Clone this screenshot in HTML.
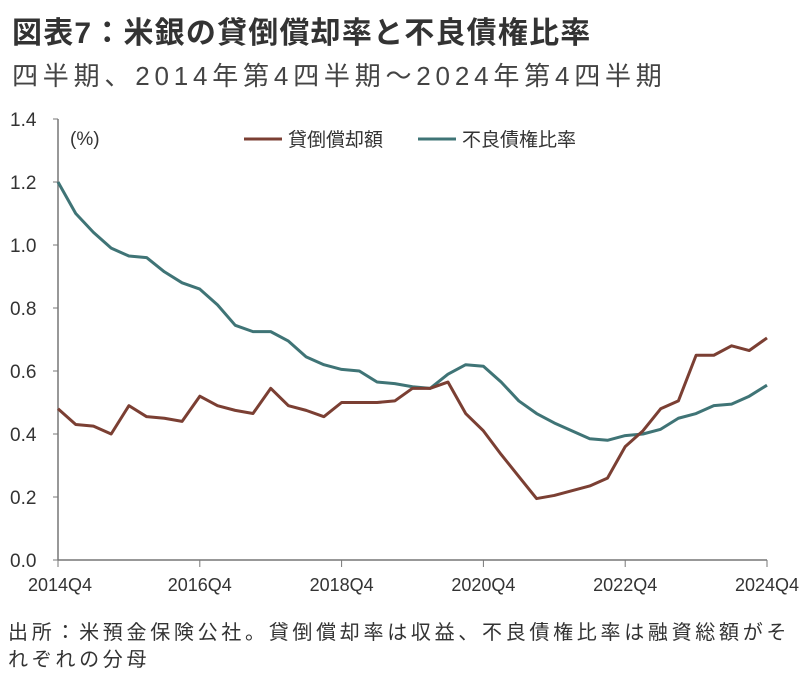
<!DOCTYPE html>
<html><head><meta charset="utf-8"><style>
body{margin:0;background:#fff;width:805px;height:676px;overflow:hidden;font-family:"Liberation Sans","Noto Sans CJK JP",sans-serif;}
.t{position:absolute;white-space:nowrap;}
</style></head><body>
<div class="t" style="left:12px;top:8px;font-size:30px;font-weight:bold;color:#333;letter-spacing:1.2px;">図表7：米銀の貸倒償却率と不良債権比率</div>
<div class="t" style="left:12px;top:56px;font-size:26px;color:#444;letter-spacing:4.8px;">四半期、2014年第4四半期～2024年第4四半期</div>
<svg id="c" width="805" height="676" style="position:absolute;left:0;top:0;"></svg>
<div class="t" style="left:8px;top:620px;font-size:20px;color:#333;line-height:27px;letter-spacing:3.7px;">出所：米預金保険公社。貸倒償却率は収益、不良債権比率は融資総額がそ<br>れぞれの分母</div>
<script>
const labels=["2014Q4","2016Q4","2018Q4","2020Q4","2022Q4","2024Q4"];
const yTicks=[0,0.2,0.4,0.6,0.8,1.0,1.2,1.4];
const chargeOff=[.48,.43,.425,.40,.49,.455,.45,.44,.52,.49,.475,.465,.545,.49,.475,.455,.50,.50,.50,.505,.545,.545,.565,.465,.41,.335,.265,.195,.205,.22,.235,.26,.36,.41,.48,.505,.65,.65,.68,.665,.705];
const npl=[1.20,1.10,1.04,.99,.965,.96,.915,.88,.86,.81,.745,.725,.725,.695,.645,.62,.605,.60,.565,.56,.55,.545,.59,.62,.615,.565,.505,.465,.435,.41,.385,.38,.395,.40,.415,.45,.465,.49,.495,.52,.555];
const svg=document.getElementById('c');const NS='http://www.w3.org/2000/svg';
const x0=58,x1=767,y0=560,y1=119;
const X=i=>x0+(x1-x0)*i/40;const Y=v=>y0-(y0-y1)*v/1.4;
function mk(t,a){const e=document.createElementNS(NS,t);for(const k in a)e.setAttribute(k,a[k]);svg.appendChild(e);return e;}
let e=mk('line',{x1:x0,y1:y1,x2:x0,y2:y0,stroke:'#777','stroke-width':1.5});

e=mk('line',{x1:x0,y1:y0,x2:x1,y2:y0,stroke:'#777','stroke-width':1.5});

yTicks.forEach(v=>{
 let l=mk('line',{x1:x0-5,y1:Y(v),x2:x0,y2:Y(v),stroke:'#777'});
 
 let t=mk('text',{x:10,y:Y(v)+7,'font-size':19,fill:'#333','font-family':'Liberation Sans Narrow, Liberation Sans, sans-serif'});
 t.textContent=v.toFixed(1);
 
});
labels.forEach((s,k)=>{
 const i=k*8;
 let l=mk('line',{x1:X(i),y1:y0,x2:X(i),y2:y0+7,stroke:'#777'});
 
 let t=mk('text',{x:X(i),y:y0+31,'font-size':18,fill:'#333','text-anchor':k==0?'start':(k==5?'end':'middle'),'font-family':'Liberation Sans Narrow, Liberation Sans, sans-serif'});
 if(k==0)t.setAttribute('x',X(i)-30);if(k==5)t.setAttribute('x',X(i)+32);
 t.textContent=s;
 
});
function line(d,c,n){const p=mk('polyline',{points:d.map((v,i)=>X(i)+','+Y(v)).join(' '),fill:'none',stroke:c,'stroke-width':3,'stroke-linejoin':'round'});
 }
line(npl,'#3f7476','npl-ratio-line');
line(chargeOff,'#7b3f33','charge-off-line');
let u=mk('text',{x:70,y:145,'font-size':19,fill:'#333'});u.textContent='(%)';

[[244,'#7b3f33','貸倒償却額','legend-charge-off'],[418,'#3f7476','不良債権比率','legend-npl']].forEach(a=>{
 let l=mk('line',{x1:a[0],y1:139,x2:a[0]+38,y2:139,stroke:a[1],'stroke-width':3});
 
 let t=mk('text',{x:a[0]+44,y:146,'font-size':19,fill:'#333'});t.textContent=a[2];
 
});
</script>
</body></html>
